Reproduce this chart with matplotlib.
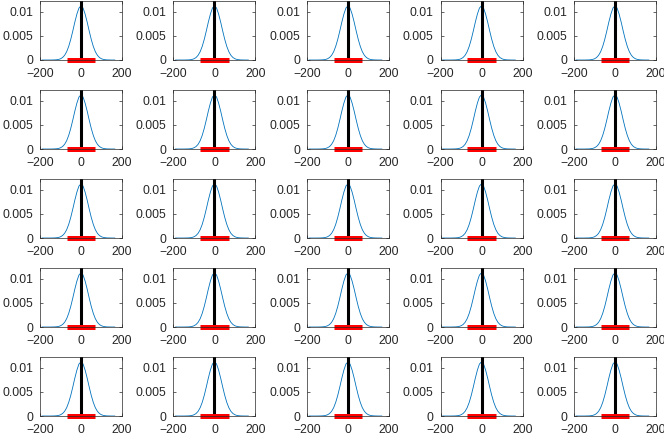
import numpy as np
import matplotlib
matplotlib.use('Agg')
import matplotlib.pyplot as plt

# valores (todas las celdas son iguales)
curve_x = [-190, -170, -150, -140, -130, -120, -110, -100, -90, -80, -70, -60, -50,
           -40, -30, -20, -10, 0, 10, 20, 30, 40, 50, 60, 70, 80, 90, 100, 110,
           120, 130, 140, 150, 165]
curve_y = [0.0, 0.0, 0.0, 0.00001, 0.00002, 0.00005, 0.00011, 0.00025, 0.00051,
           0.00097, 0.00171, 0.00281, 0.00426, 0.0060, 0.00785, 0.0095, 0.01075,
           0.0112, 0.01075, 0.0095, 0.00785, 0.0060, 0.00426, 0.00281, 0.00171,
           0.00097, 0.00051, 0.00025, 0.00011, 0.00005, 0.00002, 0.00001, 0.0, 0.0]
mean_x = 0
interval = [-70, 70]

x_ticks = [-200, 0, 200]
y_ticks = [0, 0.005, 0.01]
y_tick_labels = ['0', '0.005', '0.01']
x_lim = (-200, 200)
y_lim = (0, 0.0122)

n_rows, n_cols = 5, 5

plt.rcParams['font.family'] = ['Liberation Sans', 'DejaVu Sans']
plt.rcParams['font.size'] = 8.7

fig = plt.figure(figsize=(6.64, 4.36), dpi=100)
W, H = 664.0, 436.0
col_left = [40, 173.5, 307, 440.5, 574]
row_top = [1, 90, 179, 268, 357]
ax_w, ax_h = 82, 59

for r in range(n_rows):
    for c in range(n_cols):
        ax = fig.add_axes([col_left[c] / W, (H - row_top[r] - ax_h) / H, ax_w / W, ax_h / H])
        ax.plot(curve_x, curve_y, color='#0072BD', linewidth=0.6)
        ax.axvline(mean_x, color='black', linewidth=2.2)
        ax.plot(interval, [0, 0], color='#FF0000', linewidth=3.6, solid_capstyle='butt', clip_on=False)
        ax.set_xlim(x_lim)
        ax.set_ylim(y_lim)
        ax.set_xticks(x_ticks)
        ax.set_yticks(y_ticks)
        ax.set_yticklabels(y_tick_labels)
        ax.tick_params(direction='in', length=2, width=0.5, color='#262626',
                       labelcolor='#262626', top=True, right=True)
        ax.tick_params(axis='x', pad=5.5)
        ax.tick_params(axis='y', pad=5)
        for s in ax.spines.values():
            s.set_linewidth(0.5)
            s.set_color('#262626')

fig.savefig('out.png', dpi=100)
